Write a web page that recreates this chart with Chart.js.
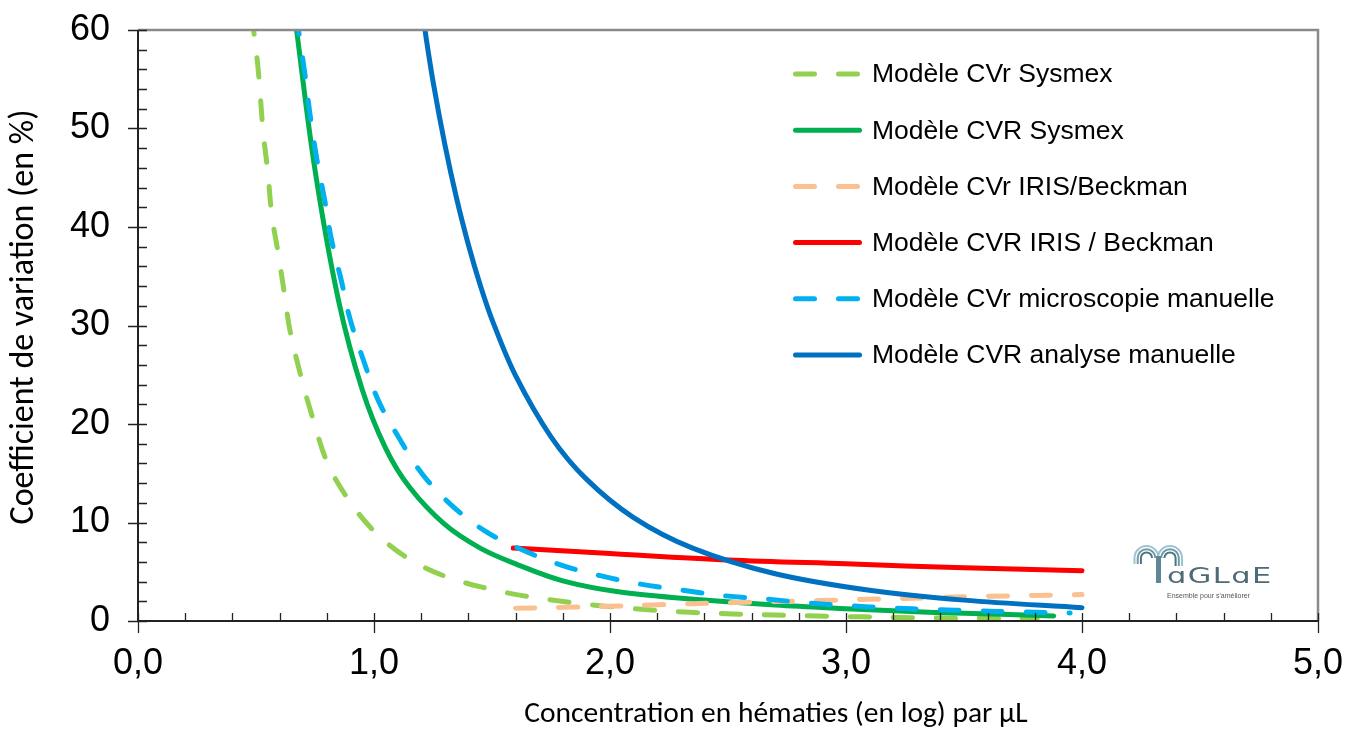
<!DOCTYPE html>
<html>
<head>
<meta charset="utf-8">
<script src="https://cdn.jsdelivr.net/npm/chart.js@4.4.0/dist/chart.umd.min.js"></script>
<style>
  html, body { margin: 0; padding: 0; background: #fff; }
</style>
</head>
<body>
<canvas id="myChart" width="1347" height="731"></canvas>
<script>
  // series names (legend order)
  const seriesNames = [
    'Modèle CVr Sysmex',
    'Modèle CVR Sysmex',
    'Modèle CVr IRIS/Beckman',
    'Modèle CVR IRIS / Beckman',
    'Modèle CVr microscopie manuelle',
    'Modèle CVR analyse manuelle'
  ];

  // x = log concentration, y = CV (%)
  const sysmexCVrX = [0.485, 0.49, 0.51, 0.53, 0.55, 0.567, 0.595, 0.623, 0.644, 0.694, 0.743, 0.80, 0.884, 0.997, 1.135, 1.294, 1.463, 1.635, 1.81, 1.98, 2.16, 2.34, 2.52, 2.70, 2.88, 3.06, 3.23, 3.41, 3.59, 3.81];
  const sysmexCVrY = [61.5, 60, 55.8, 49.7, 45.6, 41.2, 37.2, 32.8, 29.5, 24.5, 20.4, 16.2, 12.6, 9.2, 6.5, 4.6, 3.4, 2.55, 1.95, 1.5, 1.15, 0.88, 0.72, 0.61, 0.5, 0.42, 0.35, 0.3, 0.27, 0.24];

  const sysmexCVRX = [0.665, 0.672, 0.75, 0.85, 0.95, 1.05, 1.15, 1.30, 1.45, 1.60, 1.80, 2.05, 2.40, 2.70, 3.0, 3.25, 3.5, 3.88];
  const sysmexCVRY = [61.5, 60, 45.8, 32.5, 23.5, 17.5, 13.6, 9.8, 7.4, 5.8, 4.08, 2.92, 2.13, 1.62, 1.25, 0.98, 0.78, 0.52];

  const irisCVrX = [1.60, 1.81, 2.0, 2.18, 2.52, 2.88, 3.23, 3.59, 4.0];
  const irisCVrY = [1.29, 1.39, 1.49, 1.63, 1.87, 2.07, 2.28, 2.5, 2.68];

  const irisCVRX = [1.59, 2.0, 2.5, 3.0, 3.5, 4.0];
  const irisCVRY = [7.4, 6.85, 6.2, 5.8, 5.4, 5.1];

  const microCVrX = [0.673, 0.68, 0.708, 0.729, 0.757, 0.792, 0.82, 0.863, 0.898, 0.955, 1.018, 1.103, 1.202, 1.322, 1.466, 1.62, 1.79, 1.958, 2.13, 2.31, 2.49, 2.67, 2.84, 3.01, 3.19, 3.37, 3.55, 3.73, 3.95];
  const microCVrY = [61.5, 60, 55.4, 51.4, 47, 42.6, 38.7, 34.4, 30.7, 26.5, 22.4, 18.7, 15, 11.9, 9.2, 7.3, 5.7, 4.6, 3.74, 3.12, 2.55, 2.2, 1.83, 1.56, 1.32, 1.17, 1.04, 0.92, 0.82];

  const manuCVRX = [1.208, 1.216, 1.25, 1.30, 1.35, 1.40, 1.45, 1.50, 1.60, 1.75, 1.90, 2.10, 2.35, 2.70, 3.10, 3.50, 4.0];
  const manuCVRY = [61.5, 60, 54.8, 48.4, 42.9, 38.2, 34.1, 30.6, 24.9, 18.7, 14.4, 10.5, 7.4, 4.8, 3.12, 2.12, 1.35];

  // axis ticks and titles
  const xTickValues = [0, 1, 2, 3, 4, 5];
  const xTickLabels = ['0,0', '1,0', '2,0', '3,0', '4,0', '5,0'];
  const yTickValues = [0, 10, 20, 30, 40, 50, 60];
  const yTickLabels = ['0', '10', '20', '30', '40', '50', '60'];
  const xTitle = 'Concentration en hématies (en log) par µL';
  const yTitle = 'Coefficient de variation (en %)';

  const pts = (xs, ys) => xs.map((v, i) => ({ x: v, y: ys[i] }));
  const dash = [19, 24];

  function line(i, xs, ys, color, dashed) {
    return {
      label: seriesNames[i],
      data: pts(xs, ys),
      borderColor: color,
      backgroundColor: color,
      borderWidth: 5,
      borderDash: dashed ? dash : [],
      borderCapStyle: 'round',
      borderJoinStyle: 'round',
      pointRadius: 0,
      showLine: true,
      fill: false,
      tension: 0.35,
      order: 6 - i
    };
  }

  const decor = {
    id: 'decor',
    afterDatasetsDraw(chart) {
      const { ctx, chartArea: a, scales: { x, y } } = chart;
      ctx.save();
      // top / right frame
      ctx.strokeStyle = '#8a8a8a';
      ctx.lineWidth = 2.5;
      ctx.beginPath();
      ctx.moveTo(a.left, a.top);
      ctx.lineTo(a.right, a.top);
      ctx.lineTo(a.right, a.bottom);
      ctx.stroke();
      // axes
      ctx.strokeStyle = '#222';
      ctx.lineWidth = 2;
      ctx.beginPath();
      ctx.moveTo(a.left, a.top);
      ctx.lineTo(a.left, a.bottom);
      ctx.lineTo(a.right, a.bottom);
      ctx.stroke();
      // tick marks
      ctx.lineWidth = 1.3;
      ctx.beginPath();
      for (let v = 0; v <= 60; v += 2) {
        const py = Math.round(y.getPixelForValue(v)) + 0.5;
        ctx.moveTo(v % 10 === 0 ? a.left - 10 : a.left, py);
        ctx.lineTo(a.left + 9, py);
      }
      for (let i = 0; i <= 25; i++) {
        const px = Math.round(x.getPixelForValue(i / 5)) + 0.5;
        ctx.moveTo(px, a.bottom - 8);
        ctx.lineTo(px, i % 5 === 0 ? a.bottom + 12 : a.bottom);
      }
      ctx.stroke();
      ctx.restore();
    },
    afterDraw(chart) {
      const ctx = chart.ctx;
      ctx.save();
      // axis titles
      ctx.fillStyle = '#000';
      ctx.textAlign = 'center';
      ctx.textBaseline = 'middle';
      ctx.font = '29.5px Carlito, "Liberation Sans", Arial, sans-serif';
      ctx.fillText(xTitle, 776, 715);
      ctx.save();
      ctx.translate(24, 317);
      ctx.rotate(-Math.PI / 2);
      ctx.font = '34px Carlito, "Liberation Sans", Arial, sans-serif';
      ctx.fillText(yTitle, 0, 0);
      ctx.restore();
      ctx.textAlign = 'left';
      // legend
      chart.data.datasets.forEach((ds, i) => {
        const ly = 74 + i * 56.2;
        ctx.strokeStyle = ds.borderColor;
        ctx.lineWidth = 5;
        ctx.lineCap = 'round';
        ctx.setLineDash(ds.borderDash);
        ctx.beginPath();
        ctx.moveTo(795.5, ly);
        ctx.lineTo(ds.borderDash.length ? 858 : 859.5, ly);
        ctx.stroke();
        ctx.setLineDash([]);
        ctx.fillStyle = '#000';
        ctx.font = '26.5px "Liberation Sans", Arial, sans-serif';
        ctx.textBaseline = 'middle';
        ctx.fillText(ds.label, 872, ly + 1);
      });
      // logo
      ctx.lineCap = 'butt';
      const cols = ['#9fc3cf', '#6f9aa8', '#4c7482'];
      [0, 1, 2].forEach(k => {
        ctx.strokeStyle = cols[k];
        ctx.lineWidth = 2;
        const r = 12 - k * 3.2;
        ctx.beginPath();
        ctx.moveTo(1146.5 - r, 564);
        ctx.arc(1146.5, 558, r, Math.PI, 0);
        ctx.stroke();
        ctx.beginPath();
        ctx.arc(1170, 558, r, Math.PI, 0);
        ctx.lineTo(1170 + r, 566);
        ctx.stroke();
      });
      ctx.fillStyle = '#5f8795';
      ctx.fillRect(1156, 556, 5, 27);
      ctx.fillStyle = '#4d6a75';
      ctx.font = '21px "DejaVu Sans", sans-serif';
      ctx.textBaseline = 'alphabetic';
      ctx.save();
      ctx.translate(1167, 583);
      ctx.scale(1.45, 1);
      ctx.letterSpacing = '1px';
      ctx.fillText('ɑGLɑE', 0, 0);
      ctx.restore();
      ctx.fillStyle = '#555';
      ctx.font = '7px "Liberation Sans", Arial, sans-serif';
      ctx.fillText("Ensemble pour s'améliorer", 1167, 598);
      ctx.restore();
    }
  };

  const ctx = document.getElementById('myChart').getContext('2d');

  const myChart = new Chart(ctx, {
    type: 'scatter',
    data: {
      datasets: [
        line(0, sysmexCVrX, sysmexCVrY, '#92D050', true),
        line(1, sysmexCVRX, sysmexCVRY, '#00B050', false),
        line(2, irisCVrX, irisCVrY, '#FAC090', true),
        line(3, irisCVRX, irisCVRY, '#FF0000', false),
        line(4, microCVrX, microCVrY, '#00B0F0', true),
        line(5, manuCVRX, manuCVRY, '#0070C0', false)
      ]
    },
    options: {
      responsive: false,
      animation: false,
      layout: { padding: { top: 30, right: 29, left: 0, bottom: 0 } },
      plugins: {
        legend: { display: false },
        tooltip: { enabled: false }
      },
      scales: {
        x: {
          type: 'linear',
          min: 0, max: 5,
          grid: { display: false, drawTicks: true, tickLength: 21 },
          border: { display: false },
          ticks: {
            stepSize: 1,
            padding: 0,
            color: '#000',
            font: { size: 36, family: '"Liberation Sans", Arial, sans-serif' },
            callback: v => xTickLabels[xTickValues.indexOf(v)] ?? ''
          },
          afterFit: s => { s.height = 110; }
        },
        y: {
          min: 0, max: 60,
          grid: { display: false, drawTicks: true, tickLength: 28 },
          border: { display: false },
          ticks: {
            stepSize: 10,
            padding: 0,
            color: '#000',
            font: { size: 36, family: '"Liberation Sans", Arial, sans-serif' },
            callback: v => yTickLabels[yTickValues.indexOf(v)] ?? ''
          },
          afterFit: s => { s.width = 138; }
        }
      }
    },
    plugins: [decor]
  });
</script>
</body>
</html>
